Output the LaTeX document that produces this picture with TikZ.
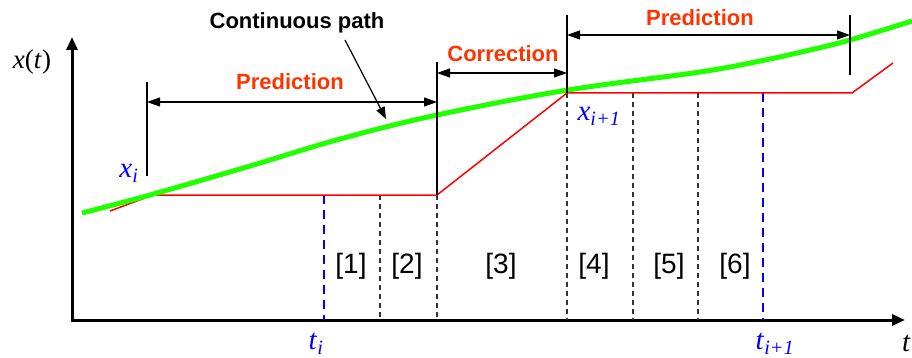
\documentclass[tikz,border=0pt]{standalone}
\usepackage{fontspec}
\setmainfont{Liberation Serif}
\setsansfont{Liberation Sans}
\usetikzlibrary{arrows.meta}
\definecolor{phasered}{HTML}{FF3300}
\definecolor{labblue}{HTML}{0000FF}
\definecolor{pathgreen}{HTML}{22FF00}
\newcommand{\var}[2]{\textit{#1}\textsubscript{\textit{#2}}}

\begin{document}
\begin{tikzpicture}[x=1pt, y=-1pt,
  every node/.style = {inner sep=0pt},
  axis/.style       = {line width=3pt, line join=miter,
                       {Triangle[length=13pt,width=11pt]}-{Triangle[length=13pt,width=11pt]}},
  dimline/.style    = {line width=1.2pt,
                       {Triangle[length=13pt,width=9pt]}-{Triangle[length=13pt,width=9pt]}},
  marker/.style     = {line width=1.2pt},
  cutline/.style    = {line width=1.1pt, black!80, dash pattern=on 5pt off 4pt},
  tline/.style      = {line width=2pt, labblue, dash pattern=on 9pt off 6pt},
  truepath/.style   = {line width=5pt, pathgreen},
  approx/.style     = {line width=1.5pt, red, line join=round},
  phase/.style      = {font=\sffamily\bfseries\fontsize{22}{26}\selectfont, text=phasered},
  callout/.style    = {font=\sffamily\bfseries\fontsize{22}{26}\selectfont},
  seg/.style        = {font=\sffamily\fontsize{28}{30}\selectfont},
  varlab/.style     = {font=\fontsize{29}{32}\selectfont, text=labblue},
]
  \useasboundingbox (0,0) rectangle (912,358);

  % ---------------------------------------------------------------- axes
  \coordinate (O)    at (72,320);
  \coordinate (ytop) at (72,37);
  \coordinate (xend) at (905,320);
  \draw[axis] (ytop) -- (O) -- (xend);
  \node[font=\fontsize{27}{30}\selectfont] (xlab) at (32,62) {\textit{x}(\textit{t})};
  \node[font=\fontsize{29}{30}\selectfont, anchor=east] (tlab) at (911,343) {\textit{t}};

  % ------------------------------------------------------- grid of steps
  \foreach \x/\y in {380/195, 437/195, 567/93, 633/93, 698/93}
    \draw[cutline] (\x,\y) -- (\x,320);
  \draw[tline] (324,195) -- (324,320);
  \draw[tline] (763,93) -- (763,320);

  % ---------------------------------------------------------- the paths
  \draw[approx] (110,211) -- (153,195) -- (437,195) -- (567,93)
                -- (852,93) -- (893,63);
  \draw[truepath] plot[smooth, tension=0.6] coordinates {
    (82,213) (150,195) (250,166) (340,139) (437,115) (568,90)
    (700,72) (765,60) (810,50) (850,40) (912,21)};

  % -------------------------------------------------------- phase marks
  \coordinate (p1a) at (147,102);
  \coordinate (p1b) at (437,102);
  \coordinate (c1a) at (437,73);
  \coordinate (c1b) at (567,73);
  \coordinate (p2a) at (567,35);
  \coordinate (p2b) at (850,35);
  \draw[marker] (147,82)  -- (147,176);
  \draw[marker] (437,62)  -- (437,195);
  \draw[marker] (567,15)  -- (567,93);
  \draw[marker] (850,15)  -- (850,75);
  \draw[dimline] (p1a) -- (p1b);
  \draw[dimline] (c1a) -- (c1b);
  \draw[dimline] (p2a) -- (p2b);
  \node[phase] (pred1) at (290,82) {Prediction};
  \node[phase] (corr)  at (503,54) {Correction};
  \node[phase] (pred2) at (700,18) {Prediction};

  % ------------------------------------------------------------ callout
  \node[callout] (cpath) at (297,23) {Continuous path};
  \coordinate (ctip) at (386,119);
  \draw[line width=1.2pt, -{Triangle[length=12pt,width=9pt]}] (345,40) -- (ctip);

  % ----------------------------------------------------------- segments
  \node[seg] (s1) at (351,266) {[1]};
  \node[seg] (s2) at (407,266) {[2]};
  \node[seg] (s3) at (501,266) {[3]};
  \node[seg] (s4) at (594,266) {[4]};
  \node[seg] (s5) at (669,266) {[5]};
  \node[seg] (s6) at (735,266) {[6]};

  % ------------------------------------------------------------- labels
  \node[varlab] (xi)  at (129,173) {\var{x}{i}};
  \node[varlab] (xi1) at (599,116) {\var{x}{i+1}};
  \node[varlab] (ti)  at (316,344) {\var{t}{i}};
  \node[varlab] (ti1) at (775,344) {\var{t}{i+1}};

\end{tikzpicture}
\end{document}
